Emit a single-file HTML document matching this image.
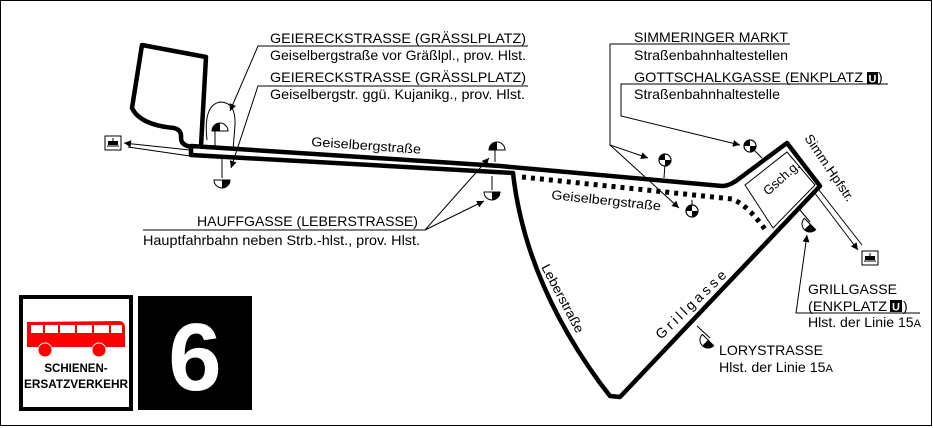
<!DOCTYPE html>
<html><head><meta charset="utf-8"><style>
html,body{margin:0;padding:0;background:#fff}
svg{display:block}
text{font-family:"Liberation Sans",sans-serif;fill:#000}
</style></head><body>
<svg width="933" height="428" viewBox="0 0 933 428" xmlns="http://www.w3.org/2000/svg">
<defs>
<marker id="ar" viewBox="0 0 10 10" refX="10" refY="5" markerWidth="10" markerHeight="7" orient="auto-start-reverse" markerUnits="userSpaceOnUse"><path d="M0,0 L10,5 L0,10 z" fill="#000"/></marker>
<g id="st"><circle cx="0" cy="0" r="6" fill="#fff" stroke="#000" stroke-width="1.2"/><path d="M0,0 L-6,0 A6,6 0 0 1 0,-6 z" fill="#000"/><path d="M0,0 L6,0 A6,6 0 0 1 0,6 z" fill="#000"/></g>
<g id="hf"><path d="M-8,0 A8,8 0 0 1 8,0 z" fill="#fff" stroke="#000" stroke-width="1"/><path d="M0,0 L0,-8 A8,8 0 0 0 -8,0 z" fill="#000"/></g>
<g id="tram"><rect x="0" y="0" width="16" height="14" fill="#fff" stroke="#000"/><rect x="3" y="5" width="10" height="4" fill="#000"/><line x1="2" y1="10" x2="14" y2="10" stroke="#000"/><line x1="8" y1="2" x2="8" y2="5" stroke="#000"/></g>
</defs>
<rect x="0.5" y="0.5" width="931" height="425" fill="#fff" stroke="#000"/>

<path d="M522,177 L732,199 Q748,205 767,232" fill="none" stroke="#000" stroke-width="5" stroke-dasharray="4,5"/>

<path d="M191,146 L500,166 L722,186 Q730,186 740,178 L787,143 L820,186 L620,397 L610,396 L600,383 Q525,280 513,173 L191,155 Z" fill="none" stroke="#000" stroke-width="4.5" stroke-linejoin="round"/>
<path d="M201,146 L206,57 L142,45 L132,108 Q140,125 174,128 Q182,130 181,138 Q181,146 193,147" fill="none" stroke="#000" stroke-width="4.5" stroke-linejoin="round"/>

<path d="M745,185 L787,152 L815,185 L773,228 Z" fill="none" stroke="#000" stroke-width="1"/>
<text transform="translate(768,196) rotate(-42)" font-size="13" textLength="44">Gsch.g.</text>

<path d="M190,150 L124,143" stroke="#000" stroke-width="1" marker-end="url(#ar)"/>
<path d="M190,156 L128,147" stroke="#000" stroke-width="1"/>
<use href="#tram" x="105" y="136"/>
<path d="M814,192 L858,250" stroke="#000" stroke-width="1" marker-end="url(#ar)"/>
<path d="M819,190 L862,245" stroke="#000" stroke-width="1"/>
<use href="#tram" x="862" y="251"/>

<path d="M207,140 Q203,105 220,102 Q236,102 235,125 L233,150" fill="none" stroke="#000" stroke-width="1"/>
<line x1="215" y1="130" x2="215" y2="146" stroke="#000"/>
<use href="#hf" x="220" y="131"/>
<line x1="222" y1="158" x2="222" y2="178" stroke="#000"/>
<use href="#hf" x="222" y="180" transform="rotate(180 222 180)"/>
<line x1="495" y1="150" x2="495" y2="162" stroke="#000"/>
<use href="#hf" x="497" y="150"/>
<line x1="492" y1="176" x2="492" y2="190" stroke="#000"/>
<use href="#hf" x="492" y="192" transform="rotate(180 492 192)"/>
<line x1="665" y1="164" x2="664" y2="178" stroke="#000"/>
<use href="#st" x="665" y="160"/>
<line x1="692" y1="200" x2="692" y2="212" stroke="#000"/>
<use href="#st" x="692" y="211"/>
<line x1="754" y1="150" x2="762" y2="158" stroke="#000"/>
<use href="#st" x="750" y="146"/>
<line x1="800" y1="210" x2="810" y2="222" stroke="#000"/>
<use href="#hf" x="810" y="224" transform="rotate(-135 810 224)"/>
<line x1="697" y1="326" x2="710" y2="338" stroke="#000"/>
<use href="#hf" x="708" y="340" transform="rotate(-135 708 340)"/>

<g stroke="#000" stroke-width="1" fill="none">
<path d="M528,46 L258,46 L230,111" marker-end="url(#ar)"/>
<path d="M528,86 L258,86 L231,168" marker-end="url(#ar)"/>
<path d="M143,230 L425,230 L489,158" marker-end="url(#ar)"/>
<path d="M425,230 L484,201" marker-end="url(#ar)"/>
<path d="M790,44 L610,44 L610,145 L648,158" marker-end="url(#ar)"/>
<path d="M610,145 L679,208" marker-end="url(#ar)"/>
<path d="M888,84 L621,84 L621,116 L740,145" marker-end="url(#ar)"/>
<path d="M920,313 L796,313 L807,235" marker-end="url(#ar)"/>
</g>

<g font-size="14">
<text x="270" y="43" textLength="256" lengthAdjust="spacingAndGlyphs">GEIERECKSTRASSE (GRÄSSLPLATZ)</text>
<text x="270" y="60" textLength="256" lengthAdjust="spacingAndGlyphs">Geiselbergstraße vor Gräßlpl., prov. Hlst.</text>
<text x="270" y="82" textLength="256" lengthAdjust="spacingAndGlyphs">GEIERECKSTRASSE (GRÄSSLPLATZ)</text>
<text x="270" y="99" textLength="255" lengthAdjust="spacingAndGlyphs">Geiselbergstr. ggü. Kujanikg., prov. Hlst.</text>
<text x="197" y="226" textLength="221" lengthAdjust="spacingAndGlyphs">HAUFFGASSE (LEBERSTRASSE)</text>
<text x="143" y="245" textLength="277" lengthAdjust="spacingAndGlyphs">Hauptfahrbahn neben Strb.-hlst., prov. Hlst.</text>
<text x="634" y="42" textLength="154" lengthAdjust="spacingAndGlyphs">SIMMERINGER MARKT</text>
<text x="634" y="60" textLength="154" lengthAdjust="spacingAndGlyphs">Straßenbahnhaltestellen</text>
<text x="634" y="82" textLength="229" lengthAdjust="spacingAndGlyphs">GOTTSCHALKGASSE (ENKPLATZ</text>
<text x="878" y="82">)</text>
<text x="634" y="99" textLength="146" lengthAdjust="spacingAndGlyphs">Straßenbahnhaltestelle</text>
<text x="808" y="294" textLength="89" lengthAdjust="spacingAndGlyphs">GRILLGASSE</text>
<text x="808" y="311" textLength="79" lengthAdjust="spacingAndGlyphs">(ENKPLATZ</text>
<text x="903" y="311">)</text>
<text x="808" y="327" textLength="113" lengthAdjust="spacingAndGlyphs">Hlst. der Linie 15<tspan font-size="11">A</tspan></text>
<text x="719" y="355" textLength="104" lengthAdjust="spacingAndGlyphs">LORYSTRASSE</text>
<text x="719" y="372" textLength="114" lengthAdjust="spacingAndGlyphs">Hlst. der Linie 15<tspan font-size="11">A</tspan></text>
</g>
<rect x="867" y="72" width="11" height="12" fill="#000"/><text x="868.5" y="82.5" font-size="11" font-weight="bold" style="fill:#fff">U</text>
<rect x="890" y="300" width="12" height="12" fill="#000"/><text x="892" y="310.5" font-size="11" font-weight="bold" style="fill:#fff">U</text>

<text transform="translate(311,146) rotate(4)" font-size="13" textLength="110" lengthAdjust="spacingAndGlyphs">Geiselbergstraße</text>
<text transform="translate(551,199) rotate(6)" font-size="13" textLength="110" lengthAdjust="spacingAndGlyphs">Geiselbergstraße</text>
<text transform="translate(541,267) rotate(62)" font-size="13" textLength="76" lengthAdjust="spacingAndGlyphs">Leberstraße</text>
<text transform="translate(661,340) rotate(-44)" font-size="14" textLength="92" lengthAdjust="spacing">Grillgasse</text>
<text transform="translate(804,138) rotate(56)" font-size="13" textLength="78" lengthAdjust="spacingAndGlyphs">Simm.Hpfstr.</text>

<rect x="21" y="297" width="110" height="112" fill="#fff" stroke="#000" stroke-width="4"/>
<path d="M27,322 L120,321 Q125,322 125,328 L125,347 L27,347 Z" fill="#f00"/>
<g fill="#fff"><rect x="31" y="325" width="12" height="8"/><rect x="45" y="325" width="13" height="8"/><rect x="60" y="325" width="15" height="8"/><rect x="77" y="325" width="15" height="8"/><rect x="94" y="325" width="15" height="8"/><rect x="111" y="325" width="11" height="8"/></g>
<circle cx="45" cy="350" r="7" fill="#f00" stroke="#fff" stroke-width="1"/>
<circle cx="99" cy="350" r="7" fill="#f00" stroke="#fff" stroke-width="1"/>
<text x="76" y="372" font-size="11.5" font-weight="bold" text-anchor="middle">SCHIENEN-</text>
<text x="76" y="388" font-size="11.5" font-weight="bold" text-anchor="middle" textLength="104" lengthAdjust="spacingAndGlyphs">ERSATZVERKEHR</text>
<rect x="138" y="296" width="114" height="114" fill="#000"/>
<text x="195" y="390" font-size="96" font-weight="bold" text-anchor="middle" style="fill:#fff">6</text>
</svg>
</body></html>
